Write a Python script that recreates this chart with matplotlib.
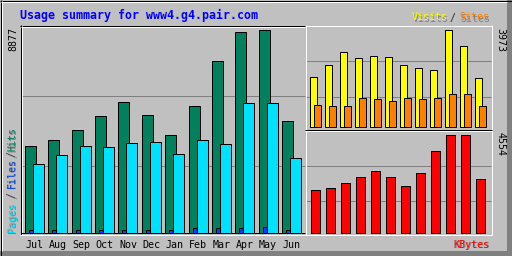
import matplotlib
matplotlib.use("Agg")
import matplotlib.pyplot as plt
from matplotlib.patches import Rectangle
import numpy as np

months = ['Jul', 'Aug', 'Sep', 'Oct', 'Nov', 'Dec', 'Jan', 'Feb', 'Mar', 'Apr', 'May', 'Jun']
hits   = [3800, 4060, 4500, 5110, 5720, 5160, 4280, 5550, 7480, 8750, 8877, 4890]
files  = [130, 130, 90, 90, 130, 130, 130, 175, 175, 175, 220, 130]
pages  = [3010, 3400, 3800, 3750, 3930, 3970, 3450, 4060, 3890, 5680, 5680, 3270]
visits = [2056, 2545, 3076, 2831, 2912, 2872, 2545, 2423, 2341, 3973, 3320, 2015]
sites  = [914, 873, 873, 1199, 1158, 1077, 1199, 1158, 1199, 1362, 1362, 873]
kbytes = [1998, 2045, 2323, 2602, 2881, 2556, 2184, 2788, 3810, 4508, 4554, 2509]

BG = '#c0c0c0'
GRID = '#808080'
SHADOW = '#808080'
C_HITS, C_FILES, C_PAGES = '#00805c', '#0040ff', '#00e0ff'
C_VISITS, C_SITES, C_KB = '#ffff00', '#ff8000', '#ff0000'
MONO = 'DejaVu Sans Mono'
PX = 0.72  # one pixel in points at dpi 100

W, H = 512, 256
fig = plt.figure(figsize=(W / 100, H / 100), dpi=100)
fig.patch.set_facecolor(BG)

# pixel-space canvas for frames, grid and text
bg = fig.add_axes([0, 0, 1, 1])
bg.set_xlim(0, W)
bg.set_ylim(H, 0)
bg.axis('off')


def hline(y, x0, x1, c):
    bg.plot([x0, x1], [y + 0.5, y + 0.5], color=c, lw=PX, solid_capstyle='butt')


def vline(x, y0, y1, c):
    bg.plot([x + 0.5, x + 0.5], [y0, y1], color=c, lw=PX, solid_capstyle='butt')


# outer bevel
bg.add_patch(Rectangle((507, 0), 5, H, color=GRID, lw=0))
bg.add_patch(Rectangle((0, 251), W, 5, color=GRID, lw=0))
hline(0, 0, W, 'black'); vline(0, 0, H, 'black')
hline(255, 0, W, 'black'); vline(511, 0, H, 'black')
hline(1, 1, 507, 'white'); vline(1, 1, 251, 'white')

# grid lines
for y in (95, 165):
    hline(y, 21, 305, GRID)
for y in (60, 96):
    hline(y, 306, 491, GRID)
for y in (165, 200):
    hline(y, 306, 491, GRID)

# panel frames
hline(25, 20, 306, 'black'); vline(20, 25, 235, 'black')
hline(26, 21, 305, 'white'); vline(21, 26, 234, 'white')
hline(232, 21, 305, 'black')
hline(234, 20, 306, 'white'); vline(305, 25, 235, 'white')
hline(25, 305, 492, 'white'); vline(491, 25, 235, 'white')
hline(129, 305, 492, 'black'); hline(130, 305, 492, 'white')
hline(234, 305, 492, 'white')


def panel(x0, y0, x1, y1, step, start, base, top_px, vmax):
    ax = fig.add_axes([x0 / W, 1 - y1 / H, (x1 - x0) / W, (y1 - y0) / H])
    ax.patch.set_alpha(0)
    ax.axis('off')
    ax.set_xlim((x0 - start) / step, (x1 - start) / step)
    s = (base - top_px) / vmax
    ax.set_ylim(-(y1 - base) / s, (base - y0) / s)
    return ax


x = np.arange(len(months))
bar = dict(align='edge', edgecolor='black', linewidth=PX)

# main panel: hits / files / pages
st = 23.36
ax = panel(20, 25, 306, 235, st, 25, 232.5, 29.5, max(hits))
ax.bar(x, hits, width=11 / st, color=C_HITS, **bar)
ax.bar(x + 4 / st, files, width=11 / st, color=C_FILES, **bar)
ax.bar(x + 8 / st, pages, width=11 / st, color=C_PAGES, **bar)
tr = ax.get_xaxis_transform()
for i, m in enumerate(months):
    ax.text(i + 9.5 / st, (235 - 247.5) / 210, m, transform=tr, ha='center',
            va='baseline', fontsize=7.2, family=MONO, color='black')

# visits / sites
ax2 = panel(305, 25, 492, 129, 15, 309.5, 127, 29.5, max(visits))
ax2.bar(x, visits, width=7 / 15, color=C_VISITS, **bar)
ax2.bar(x + 4 / 15, sites, width=7 / 15, color=C_SITES, **bar)

# kbytes
ax3 = panel(305, 130, 492, 235, 15, 310.5, 232.5, 134.5, max(kbytes))
ax3.bar(x, kbytes, width=9 / 15, color=C_KB, **bar)


def label(xp, yp, s, color, shadow=True, **kw):
    kw.setdefault('fontsize', 7.2)
    kw.setdefault('family', MONO)
    if shadow:
        bg.text(xp + 1, yp + 1, s, color=SHADOW, **kw)
    bg.text(xp, yp, s, color=color, **kw)


label(20, 19, 'Usage summary for www4.g4.pair.com', '#0000ff', shadow=False,
      fontsize=8.4, fontweight='bold', va='baseline')

label(412, 20.5, 'Visits', C_VISITS, va='baseline')
label(449, 20.5, '/', '#404040', va='baseline')
label(459.5, 20.5, 'Sites', C_SITES, va='baseline')
label(489.5, 247.5, 'KBytes', C_KB, va='baseline', ha='right')

rot = dict(rotation=90, ha='center', va='bottom', rotation_mode='default')
label(12, 232, 'Pages', C_PAGES, **rot)
label(12, 198, '/', '#404040', **rot)
label(12, 187.5, 'Files', C_FILES, **rot)
label(12, 157, '/', '#404040', **rot)
label(12, 151, 'Hits', C_HITS, **rot)

label(13, 27, str(max(hits)), 'black', shadow=False, rotation=90,
      ha='center', va='top')
label(500.5, 28, str(max(visits)), 'black', shadow=False, rotation=270,
      ha='center', va='top')
label(500.5, 132, str(max(kbytes)), 'black', shadow=False, rotation=270,
      ha='center', va='top')

fig.savefig('out.png', dpi=100, facecolor=BG)
